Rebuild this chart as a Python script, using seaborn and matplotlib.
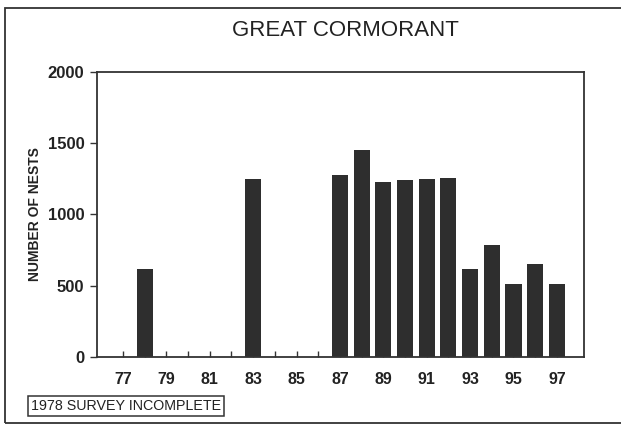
import matplotlib
matplotlib.use("Agg")
import matplotlib.pyplot as plt
import seaborn as sns
import pandas as pd
from matplotlib.patches import Rectangle

years = [78, 83, 87, 88, 89, 90, 91, 92, 93, 94, 95, 96, 97]
nests = [615, 1250, 1280, 1455, 1225, 1245, 1250, 1255, 620, 785, 510, 650, 515]
label_years = [77, 79, 81, 83, 85, 87, 89, 91, 93, 95, 97]
minor_years = [78, 80, 82, 84, 86, 88, 90, 92, 94, 96]
y_ticks = [0, 500, 1000, 1500, 2000]

title = "GREAT CORMORANT"
y_label = "NUMBER OF NESTS"
note = "1978 SURVEY INCOMPLETE"

sns.set_theme(style="white")
plt.rcParams['font.family'] = ['Liberation Sans', 'DejaVu Sans']

df = pd.DataFrame({"year": years, "nests": nests})

fig = plt.figure(figsize=(6.21, 4.26), dpi=100)
ax = fig.add_axes([97/621, 1 - 357/426, (584 - 97)/621, (357 - 72)/426])

sns.barplot(data=df, x="year", y="nests", native_scale=True, width=0.74,
            color="#2e2e2e", saturation=1, edgecolor="none", ax=ax)

ax.set_xlim(75.8, 98.25)
ax.set_ylim(0, 2000)
ax.set_xticks(label_years)
ax.set_xticklabels([str(v) for v in label_years], fontsize=11.5, fontweight="bold", color="#222222")
ax.set_xticks(minor_years, minor=True)
ax.set_yticks(y_ticks)
ax.set_yticklabels([str(v) for v in y_ticks], fontsize=12, fontweight="bold", color="#222222")
ax.tick_params(axis="x", which="both", direction="in", length=4, width=1, color="#333333", pad=11, bottom=True)
ax.tick_params(axis="y", direction="out", length=5, width=1, color="#333333", pad=4, left=True)
ax.set_xlabel("")
ax.set_ylabel(y_label, fontsize=10, fontweight="bold", color="#222222", labelpad=4)
for s in ax.spines.values():
    s.set_visible(True)
    s.set_color("#333333")
    s.set_linewidth(1.3)

fig.text(345/621, 1 - 30/426, title, ha="center", va="center", fontsize=16, color="#222222")

# outer frame
fig.patches.append(Rectangle((5/621, 1 - 423/426), 640/621, (423 - 8)/426,
                             transform=fig.transFigure, fill=False,
                             edgecolor="#333333", linewidth=1.3))

fig.text(31/621, 1 - 406/426, note, ha="left", va="center", fontsize=10.3, color="#222222",
         bbox=dict(boxstyle="square,pad=0.2", facecolor="white", edgecolor="#333333", linewidth=1.1))

fig.savefig("out.png", dpi=100)
